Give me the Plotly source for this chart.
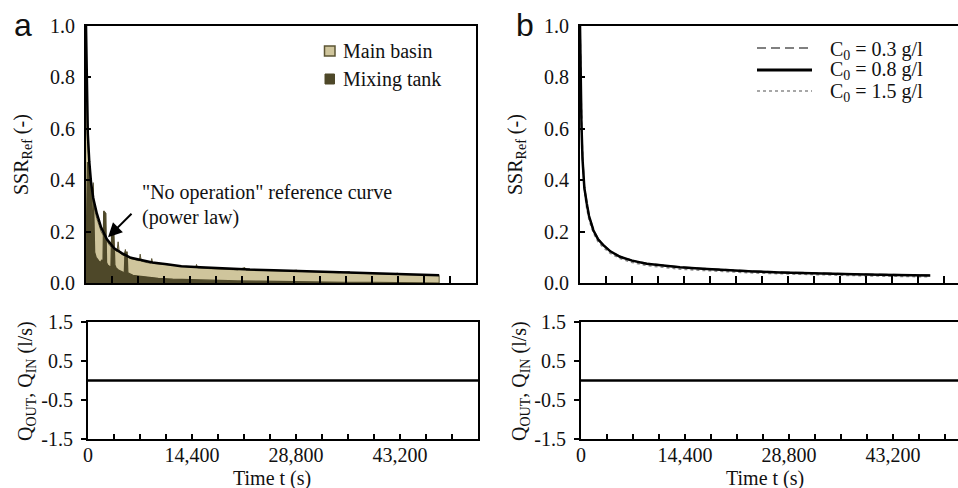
import plotly.graph_objects as go

# ---------------- data ----------------
# Panel a: suspended-solids ratio over time
ref_t = [0, 60, 150, 250, 460, 700, 1000, 1500, 2100, 2900, 3900, 5000, 6200, 7500,
         9200, 11200, 13200, 15800, 19000, 22700, 26000, 29600, 33000, 36500, 40000,
         43500, 46500, 48900]
ref_ssr = [1.0, 0.88, 0.70, 0.58, 0.47, 0.39, 0.33, 0.27, 0.215, 0.17, 0.135, 0.115,
           0.098, 0.09, 0.08, 0.073, 0.065, 0.061, 0.056, 0.052, 0.05, 0.047, 0.044,
           0.041, 0.038, 0.035, 0.032, 0.030]

main_t = [0, 40, 100, 180, 300, 460, 650, 900, 1200, 1500, 1800, 2100, 2500, 2900,
          3300, 3900, 4300, 4450, 4600, 5000, 5300, 5450, 5600, 6200, 6800, 7400, 7500,
          7650, 8500, 9000, 9100, 9250, 10500, 12000, 13500, 15200, 15300, 15450, 17000,
          19000, 21000, 22000, 22150, 24000, 26000, 28000, 29200, 29350, 31000, 33000,
          35000, 36500, 36650, 38500, 40500, 42000, 43200, 43350, 45000, 47000, 48900,
          48900]
main_ssr = [0.97, 0.86, 0.72, 0.60, 0.52, 0.44, 0.37, 0.32, 0.28, 0.25, 0.225, 0.20,
            0.18, 0.16, 0.145, 0.13, 0.122, 0.16, 0.12, 0.11, 0.105, 0.13, 0.103, 0.095,
            0.090, 0.086, 0.112, 0.085, 0.079, 0.077, 0.095, 0.076, 0.073, 0.068, 0.063,
            0.060, 0.072, 0.059, 0.056, 0.053, 0.051, 0.060, 0.050, 0.049, 0.048, 0.046,
            0.050, 0.045, 0.044, 0.042, 0.040, 0.044, 0.039, 0.037, 0.036, 0.034, 0.038,
            0.033, 0.032, 0.031, 0.029, 0.0]

mix_t = [0, 100, 200, 300, 400, 500, 600, 700, 800, 900, 1000, 1100, 1200, 1400, 1600,
         1800, 2000, 2200, 2350, 2450, 2750, 2850, 3000, 3300, 3450, 3550, 3850, 4000,
         4150, 4500, 5000, 5300, 5400, 5700, 5800, 6500, 7000, 8000, 9000, 10000, 12000,
         14000, 16000, 18000, 21000, 24000, 28000, 32000, 36000, 40000, 44000, 48900,
         48900]
mix_ssr = [0.10, 0.30, 0.47, 0.44, 0.47, 0.30, 0.40, 0.38, 0.22, 0.15, 0.39, 0.25, 0.12,
           0.10, 0.09, 0.085, 0.08, 0.09, 0.075, 0.28, 0.27, 0.08, 0.07, 0.065, 0.06,
           0.20, 0.21, 0.07, 0.06, 0.05, 0.045, 0.04, 0.12, 0.12, 0.04, 0.03, 0.028,
           0.024, 0.02, 0.018, 0.015, 0.013, 0.011, 0.009, 0.008, 0.007, 0.005, 0.004,
           0.003, 0.003, 0.002, 0.002, 0.0]

# Panel b: reference curves for three initial concentrations
c_t = [0, 80, 200, 350, 600, 930, 1250, 1850, 2500, 3230, 4200, 5540, 7200, 9230,
       11500, 13840, 17000, 20770, 24000, 27700, 31000, 34600, 38000, 41500, 45000, 48500]
c03 = [1.0, 0.81, 0.63, 0.49, 0.375, 0.315, 0.262, 0.207, 0.172, 0.148, 0.124, 0.103,
       0.088, 0.076, 0.068, 0.062, 0.056, 0.050, 0.046, 0.042, 0.039, 0.037, 0.035,
       0.033, 0.031, 0.030]
c08 = [1.0, 0.80, 0.62, 0.48, 0.37, 0.31, 0.26, 0.205, 0.17, 0.147, 0.123, 0.102,
       0.087, 0.075, 0.067, 0.061, 0.055, 0.049, 0.045, 0.041, 0.038, 0.036, 0.034,
       0.032, 0.031, 0.029]
c15 = [1.0, 0.83, 0.66, 0.50, 0.36, 0.29, 0.245, 0.195, 0.16, 0.138, 0.115, 0.095,
       0.080, 0.068, 0.060, 0.054, 0.049, 0.043, 0.039, 0.036, 0.033, 0.031, 0.029,
       0.027, 0.026, 0.024]

# Discharge (no operation)
q_t = [0, 54000]
q_flow = [0, 0]

time_ticks = [3600 * i for i in range(15)]
time_labels = ["0", "", "", "", "14,400", "", "", "", "28,800", "", "", "", "43,200", "", ""]
ssr_ticks = [0, 0.2, 0.4, 0.6, 0.8, 1.0]
ssr_labels = ["0.0", "0.2", "0.4", "0.6", "0.8", "1.0"]
q_ticks = [-1.5, -0.5, 0.5, 1.5]
q_labels = ["-1.5", "-0.5", "0.5", "1.5"]

# ---------------- style ----------------
W, H = 958, 488
SERIF = "Liberation Serif"
INK = "#111111"
TAN = "#cfc59c"
TAN_EDGE = "#5c5534"
OLIVE = "#4e4829"
DASH = "9px,5px"


def px(x):
    return x / W


def py(y):
    return 1 - y / H


fig = go.Figure()

# panel a, top
fig.add_trace(go.Scatter(x=main_t, y=main_ssr, mode="lines", fill="tozeroy",
                         fillcolor=TAN, line=dict(color=TAN_EDGE, width=1),
                         xaxis="x", yaxis="y", name="Main basin"))
fig.add_trace(go.Scatter(x=mix_t, y=mix_ssr, mode="lines", fill="tozeroy",
                         fillcolor=OLIVE, line=dict(color=OLIVE, width=1.2),
                         xaxis="x", yaxis="y", name="Mixing tank"))
fig.add_trace(go.Scatter(x=ref_t, y=ref_ssr, mode="lines",
                         line=dict(color="black", width=2.5),
                         xaxis="x", yaxis="y", name="reference"))

# panel b, top
fig.add_trace(go.Scatter(x=c_t, y=c15, mode="lines",
                         line=dict(color="#8a8a8a", width=1.6, dash="dot"),
                         xaxis="x2", yaxis="y2"))
fig.add_trace(go.Scatter(x=c_t, y=c03, mode="lines",
                         line=dict(color="#808080", width=1.8, dash=DASH),
                         xaxis="x2", yaxis="y2"))
fig.add_trace(go.Scatter(x=c_t, y=c08, mode="lines",
                         line=dict(color="black", width=2.5),
                         xaxis="x2", yaxis="y2"))

# discharge panels
fig.add_trace(go.Scatter(x=q_t, y=q_flow, mode="lines",
                         line=dict(color="black", width=2.5), xaxis="x3", yaxis="y3"))
fig.add_trace(go.Scatter(x=q_t, y=q_flow, mode="lines",
                         line=dict(color="black", width=2.5), xaxis="x4", yaxis="y4"))

tick_font = dict(family=SERIF, size=20, color=INK)
top_dom = [py(283), py(25.5)]
bot_dom = [py(439), py(322)]

common_x = dict(showgrid=False, zeroline=False, showline=True, linecolor="black",
                linewidth=2, mirror=True, tickvals=time_ticks, tickcolor="black",
                tickwidth=2, tickfont=tick_font, automargin=False)
common_y = dict(showgrid=False, zeroline=False, showline=True, linecolor="black",
                linewidth=2, tickcolor="black", tickwidth=2, tickfont=tick_font,
                automargin=False)

fig.update_layout(
    width=W, height=H, margin=dict(l=0, r=0, t=0, b=0, pad=0, autoexpand=False),
    font=dict(family=SERIF, size=20, color=INK),
    paper_bgcolor="white", plot_bgcolor="white", showlegend=False,
    xaxis=dict(common_x, domain=[px(86), px(476)], range=[0, 54000], anchor="y",
               ticks="inside", ticklen=7, showticklabels=False),
    yaxis=dict(common_y, domain=top_dom, range=[0, 1], anchor="x", mirror=True,
               tickvals=ssr_ticks, ticktext=ssr_labels, ticks="inside", ticklen=5,
               ticklabelstandoff=5),
    yaxis5=dict(overlaying="y", anchor="x", side="right", range=[0, 1],
                tickvals=[0.2, 0.4, 0.6, 0.8], ticks="inside", ticklen=13, tickwidth=2,
                tickcolor="black", showticklabels=False, showgrid=False,
                zeroline=False, showline=False, automargin=False),
    xaxis2=dict(common_x, domain=[px(580), 1], range=[0, (W - 580) / 26 * 3600],
                anchor="y2", ticks="inside", ticklen=7, showticklabels=False),
    yaxis2=dict(common_y, domain=top_dom, range=[0, 1], anchor="x2", mirror=False,
                tickvals=ssr_ticks, ticktext=ssr_labels, ticks="inside", ticklen=5,
                ticklabelstandoff=5),
    xaxis3=dict(common_x, domain=[px(88), px(478)], range=[0, 54000], anchor="y3",
                ticks="inside", ticklen=5, ticktext=time_labels, ticklabelstandoff=-3),
    yaxis3=dict(common_y, domain=bot_dom, range=[-1.5, 1.5], anchor="x3", mirror=True,
                tickvals=q_ticks, ticktext=q_labels, ticks="outside", ticklen=5,
                ticklabelstandoff=4),
    xaxis4=dict(common_x, domain=[px(581), 1], range=[0, (W - 581) / 26 * 3600],
                anchor="y4", ticks="inside", ticklen=5, ticktext=time_labels,
                ticklabelstandoff=-3),
    yaxis4=dict(common_y, domain=bot_dom, range=[-1.5, 1.5], anchor="x4", mirror=False,
                tickvals=q_ticks, ticktext=q_labels, ticks="outside", ticklen=5,
                ticklabelstandoff=4),
)

ann = []
shapes = []


def text(x, y, s, size=20, xanchor="left", family=SERIF, angle=0):
    ann.append(dict(x=px(x), y=py(y), xref="paper", yref="paper", text=s,
                    showarrow=False, xanchor=xanchor, yanchor="middle",
                    textangle=angle, font=dict(family=family, size=size, color=INK)))


# panel letters
text(12, 25, "a", size=32, family="Liberation Sans")
text(514, 25, "b", size=32, family="Liberation Sans")

# axis titles
text(22, 155, "SSR<sub>Ref</sub> (-)", xanchor="center", angle=-90)
text(516, 155, "SSR<sub>Ref</sub> (-)", xanchor="center", angle=-90)
text(26, 381, "Q<sub>OUT</sub>, Q<sub>IN</sub> (l/s)", xanchor="center", angle=-90)
text(520, 381, "Q<sub>OUT</sub>, Q<sub>IN</sub> (l/s)", xanchor="center", angle=-90)
text(272, 478, "Time t (s)", xanchor="center")
text(765, 478, "Time t (s)", xanchor="center")

# reference-curve callout
text(140, 193, "\"No operation\" reference curve")
text(140, 217, "(power law)")
ann.append(dict(x=3050, y=0.178, xref="x", yref="y", ax=25, ay=-25, text="",
                showarrow=True, arrowhead=2, arrowsize=1.4, arrowwidth=2,
                arrowcolor="black"))

# legend, panel a
shapes.append(dict(type="rect", xref="paper", yref="paper", x0=px(324.5), x1=px(335),
                   y0=py(56), y1=py(46), fillcolor=TAN, line=dict(color=TAN_EDGE, width=1.5)))
shapes.append(dict(type="rect", xref="paper", yref="paper", x0=px(325), x1=px(334.5),
                   y0=py(84), y1=py(74), fillcolor=OLIVE, line=dict(color=OLIVE, width=1)))
text(341, 51, "Main basin")
text(341, 79, "Mixing tank")

# legend, panel b
shapes.append(dict(type="line", xref="paper", yref="paper", x0=px(757), x1=px(812),
                   y0=py(48), y1=py(48), line=dict(color="#808080", width=2, dash=DASH)))
shapes.append(dict(type="line", xref="paper", yref="paper", x0=px(757), x1=px(812),
                   y0=py(70), y1=py(70), line=dict(color="black", width=3)))
shapes.append(dict(type="line", xref="paper", yref="paper", x0=px(757), x1=px(812),
                   y0=py(91), y1=py(91), line=dict(color="#8a8a8a", width=1.5, dash="dot")))
text(828, 50, "C<sub>0</sub> = 0.3 g/l")
text(828, 71, "C<sub>0</sub> = 0.8 g/l")
text(828, 92, "C<sub>0</sub> = 1.5 g/l")

fig.update_layout(annotations=ann, shapes=shapes)

# page without default body margin so the figure fills the window exactly
page_css = ("document.documentElement.style.margin='0';"
            "document.body.style.margin='0';"
            "document.body.style.overflow='hidden';"
            "document.documentElement.style.overflow='hidden';")
fig.write_html("out.html", post_script=page_css)
